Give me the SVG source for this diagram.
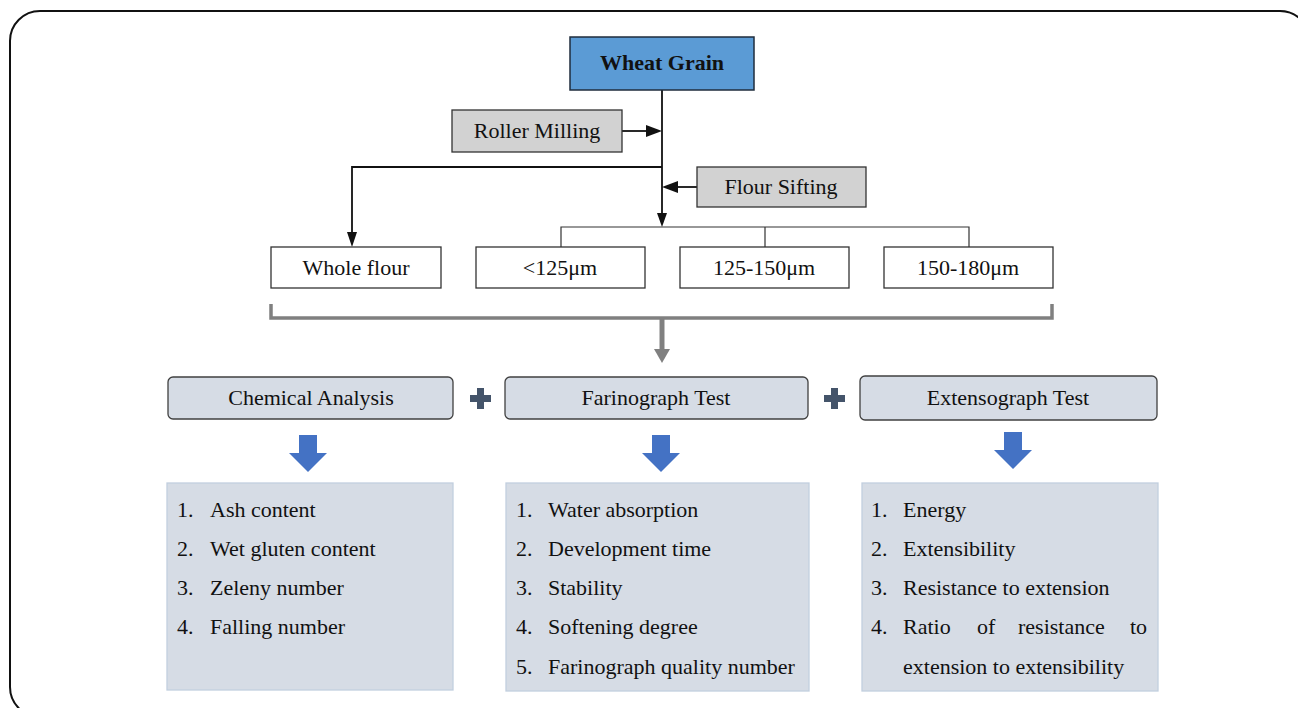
<svg xmlns="http://www.w3.org/2000/svg" width="1298" height="708" viewBox="0 0 1298 708" font-family="'Liberation Serif','Times New Roman',serif">
<style>
text{font-family:"Liberation Serif","Times New Roman",serif;fill:#111;}
.t{font-size:22px;text-anchor:middle;}
.li{font-size:22px;}
.box{fill:#fff;stroke:#333;stroke-width:1.3;}
.gray{fill:#d2d2d2;stroke:#333;stroke-width:1.3;}
.hdr{fill:#d6dce5;stroke:#404040;stroke-width:1.3;}
.lst{fill:#d6dce5;stroke:#c2cfdf;stroke-width:1.3;}
.ln{fill:none;stroke:#111;stroke-width:1.8;}
.thin{fill:none;stroke:#333;stroke-width:1.2;}
.blue{fill:#4472c4;}
.plus{fill:#44546a;}
.head{fill:#111;}
</style>
<rect x="10" y="11" width="1300" height="706" rx="30" ry="30" fill="#fff" stroke="#111" stroke-width="2"/>

<g id="connectors">
<line class="ln" x1="662" y1="90" x2="662" y2="215"/>
<path class="head" d="M657,213 L667,213 L662,227 Z"/>
<path class="ln" d="M622,131 L649,131"/>
<path class="head" d="M646,125 L662,131 L646,137 Z"/>
<path class="ln" d="M697,187 L676,187"/>
<path class="head" d="M678,181 L662,187 L678,193 Z"/>
<path class="ln" d="M662,167 L352,167 L352,235"/>
<path class="head" d="M347,232 L357,232 L352,247 Z"/>
<path class="thin" d="M561,247 L561,227 L969,227 L969,247 M765,227 L765,247"/>
<path d="M271,304 L271,318 L1052,318 L1052,304" fill="none" stroke="#808080" stroke-width="3.5"/>
<line x1="662" y1="318" x2="662" y2="352" stroke="#808080" stroke-width="5"/>
<path d="M654,349 L670,349 L662,363 Z" fill="#808080"/>
</g>

<g id="wheat-grain">
<rect x="570" y="37" width="184" height="53" fill="#5b9bd5" stroke="#1f2d3d" stroke-width="1.5"/>
<text class="t" x="662" y="70" font-weight="bold">Wheat Grain</text>
</g>
<g id="roller-milling">
<rect class="gray" x="452" y="110" width="170" height="42"/>
<text class="t" x="537" y="138">Roller Milling</text>
</g>
<g id="flour-sifting">
<rect class="gray" x="697" y="167" width="169" height="40"/>
<text class="t" x="781" y="194">Flour Sifting</text>
</g>

<g id="whole-flour">
<rect class="box" x="271" y="247" width="170" height="41"/>
<text class="t" x="356" y="275">Whole flour</text>
</g>
<g id="lt125">
<rect class="box" x="476" y="247" width="169" height="41"/>
<text class="t" x="560" y="275">&lt;125μm</text>
</g>
<g id="r125-150">
<rect class="box" x="680" y="247" width="169" height="41"/>
<text class="t" x="764" y="275">125-150μm</text>
</g>
<g id="r150-180">
<rect class="box" x="884" y="247" width="169" height="41"/>
<text class="t" x="968" y="275">150-180μm</text>
</g>

<g id="chemical-analysis">
<rect class="hdr" x="168" y="377" width="285" height="42" rx="5"/>
<text class="t" x="311" y="405">Chemical Analysis</text>
</g>
<g id="plus1"><rect class="plus" x="470" y="395" width="21" height="7"/><rect class="plus" x="477" y="388" width="7" height="21"/></g>
<g id="farinograph-test">
<rect class="hdr" x="505" y="377" width="303" height="42" rx="5"/>
<text class="t" x="656" y="405">Farinograph Test</text>
</g>
<g id="plus2"><rect class="plus" x="824" y="395" width="21" height="7"/><rect class="plus" x="831" y="388" width="7" height="21"/></g>
<g id="extensograph-test">
<rect class="hdr" x="860" y="376" width="297" height="44" rx="5"/>
<text class="t" x="1008" y="405">Extensograph Test</text>
</g>

<g id="arrows-blue">
<path class="blue" d="M299,435 L317,435 L317,453 L327,453 L308,472 L289,453 L299,453 Z"/>
<path class="blue" d="M652,435 L670,435 L670,453 L680,453 L661,472 L642,453 L652,453 Z"/>
<path class="blue" d="M1004,432 L1022,432 L1022,450 L1032,450 L1013,469 L994,450 L1004,450 Z"/>
</g>

<g id="chemical-list">
<rect class="lst" x="167" y="483" width="286" height="207"/>
<text class="li" x="177" y="517">1.</text><text class="li" x="210" y="517">Ash content</text>
<text class="li" x="177" y="556">2.</text><text class="li" x="210" y="556">Wet gluten content</text>
<text class="li" x="177" y="595">3.</text><text class="li" x="210" y="595">Zeleny number</text>
<text class="li" x="177" y="634">4.</text><text class="li" x="210" y="634">Falling number</text>
</g>
<g id="farinograph-list">
<rect class="lst" x="506" y="483" width="303" height="208"/>
<text class="li" x="516" y="517">1.</text><text class="li" x="548" y="517">Water absorption</text>
<text class="li" x="516" y="556">2.</text><text class="li" x="548" y="556">Development time</text>
<text class="li" x="516" y="595">3.</text><text class="li" x="548" y="595">Stability</text>
<text class="li" x="516" y="634">4.</text><text class="li" x="548" y="634">Softening degree</text>
<text class="li" x="516" y="674">5.</text><text class="li" x="548" y="674">Farinograph quality number</text>
</g>
<g id="extensograph-list">
<rect class="lst" x="862" y="483" width="296" height="208"/>
<text class="li" x="871" y="517">1.</text><text class="li" x="903" y="517">Energy</text>
<text class="li" x="871" y="556">2.</text><text class="li" x="903" y="556">Extensibility</text>
<text class="li" x="871" y="595">3.</text><text class="li" x="903" y="595">Resistance to extension</text>
<text class="li" x="871" y="634">4.</text><text class="li" y="634"><tspan x="903">Ratio</tspan><tspan x="977">of</tspan><tspan x="1018">resistance</tspan><tspan x="1130">to</tspan></text>
<text class="li" x="903" y="674">extension to extensibility</text>
</g>
</svg>
